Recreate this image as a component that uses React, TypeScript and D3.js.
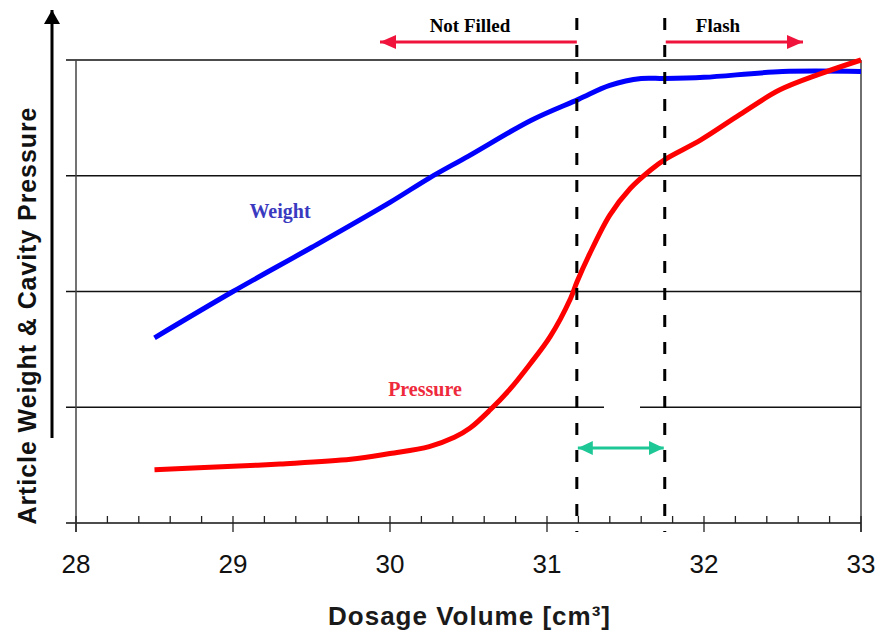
import React, { useEffect, useRef } from 'react';
import * as d3 from 'd3';

// Dosage volume [cm³] and relative curve levels (arbitrary units, 0..4 grid)
const weightX = [28.5, 29.0, 29.5, 30.0, 30.25, 30.5, 30.9, 31.2, 31.4, 31.6, 31.75, 32.0, 32.5, 33.0];
const weightY = [1.6, 2.0, 2.38, 2.77, 2.98, 3.17, 3.48, 3.66, 3.78, 3.84, 3.84, 3.85, 3.9, 3.9];

const pressureX = [28.5, 29.0, 29.3, 29.75, 30.0, 30.25, 30.41, 30.51, 30.64, 30.76, 30.89, 31.02, 31.15, 31.19, 31.27, 31.4, 31.53, 31.66, 31.75, 31.98, 32.23, 32.48, 32.74, 33.0];
const pressureY = [0.46, 0.49, 0.51, 0.55, 0.6, 0.66, 0.74, 0.82, 0.98, 1.15, 1.37, 1.61, 1.94, 2.08, 2.32, 2.66, 2.89, 3.05, 3.14, 3.31, 3.53, 3.74, 3.88, 4.0];

const xTicks = [28, 29, 30, 31, 32, 33];
const gridLevels = [0, 1, 2, 3, 4];
const limits = [31.19, 31.75]; // not filled / flash boundaries

const App = () => {
    const svgRef = useRef(null);

    useEffect(() => {
        document.body.style.margin = '0';
        const svg = d3.select(svgRef.current);
        svg.selectAll('*').remove();

        const x = d3.scaleLinear().domain([28, 33]).range([76, 861]);
        const y = d3.scaleLinear().domain([0, 4]).range([523, 60]);

        const defs = svg.append('defs');
        const mk = (id, color, len, half) => {
            defs.append('marker')
                .attr('id', id)
                .attr('viewBox', `0 ${-half} ${len} ${half * 2}`)
                .attr('refX', len).attr('refY', 0)
                .attr('markerWidth', len).attr('markerHeight', half * 2)
                .attr('markerUnits', 'userSpaceOnUse')
                .attr('orient', 'auto-start-reverse')
                .append('path')
                .attr('d', `M0,${-half}L${len},0L0,${half}Z`)
                .attr('fill', color);
        };
        mk('arr-red', '#f0143c', 16, 7);
        mk('arr-green', '#1ec896', 15, 7);
        mk('arr-black', '#000', 14, 8);

        // --- GRID ---
        gridLevels.forEach(v => {
            svg.append('line')
                .attr('x1', 66).attr('x2', x(33))
                .attr('y1', y(v)).attr('y2', y(v))
                .attr('stroke', '#111').attr('stroke-width', 1.3);
        });
        // frame sides
        svg.append('line').attr('x1', x(28)).attr('x2', x(28)).attr('y1', y(4)).attr('y2', y(0) + 9)
            .attr('stroke', '#444').attr('stroke-width', 1.5);
        svg.append('line').attr('x1', x(33)).attr('x2', x(33)).attr('y1', y(4)).attr('y2', y(0) + 9)
            .attr('stroke', '#222').attr('stroke-width', 1.3);

        // minor / major ticks
        d3.range(28, 33.001, 0.2).forEach(t => {
            const major = Math.abs(t - Math.round(t)) < 1e-6;
            svg.append('line')
                .attr('x1', x(t)).attr('x2', x(t))
                .attr('y1', y(0) - 7).attr('y2', major ? y(0) + 9 : y(0))
                .attr('stroke', '#222').attr('stroke-width', 1.3);
        });

        // blank patch over the grid line
        svg.append('rect').attr('x', 604).attr('y', y(1) - 3).attr('width', 36).attr('height', 6).attr('fill', '#fff');

        // --- CURVES ---
        const line = d3.line().curve(d3.curveCatmullRom.alpha(0.5)).x(d => x(d[0])).y(d => y(d[1]));
        svg.append('path')
            .datum(weightX.map((v, i) => [v, weightY[i]]))
            .attr('d', line).attr('fill', 'none')
            .attr('stroke', '#0000ff').attr('stroke-width', 5);
        svg.append('path')
            .datum(pressureX.map((v, i) => [v, pressureY[i]]))
            .attr('d', line).attr('fill', 'none')
            .attr('stroke', '#ff0000').attr('stroke-width', 5);

        // --- LIMIT LINES ---
        limits.forEach(l => {
            svg.append('line')
                .attr('x1', x(l)).attr('x2', x(l))
                .attr('y1', 18).attr('y2', 532)
                .attr('stroke', '#000').attr('stroke-width', 3)
                .attr('stroke-dasharray', '12,15');
        });

        // region arrows
        svg.append('line').attr('x1', x(limits[0])).attr('x2', 380).attr('y1', 42).attr('y2', 42)
            .attr('stroke', '#f0143c').attr('stroke-width', 3).attr('marker-end', 'url(#arr-red)');
        svg.append('line').attr('x1', x(limits[1]) + 1).attr('x2', 803).attr('y1', 42).attr('y2', 42)
            .attr('stroke', '#f0143c').attr('stroke-width', 3).attr('marker-end', 'url(#arr-red)');
        svg.append('line').attr('x1', x(limits[0]) + 1).attr('x2', x(limits[1]) - 1).attr('y1', 448).attr('y2', 448)
            .attr('stroke', '#1ec896').attr('stroke-width', 3)
            .attr('marker-start', 'url(#arr-green)').attr('marker-end', 'url(#arr-green)');

        const serif = '"Liberation Serif", "Times New Roman", serif';
        svg.append('text').attr('x', 470).attr('y', 32).attr('text-anchor', 'middle')
            .attr('font-family', serif).attr('font-weight', 'bold').attr('font-size', 19).text('Not Filled');
        svg.append('text').attr('x', 718).attr('y', 32).attr('text-anchor', 'middle')
            .attr('font-family', serif).attr('font-weight', 'bold').attr('font-size', 19).text('Flash');
        svg.append('text').attr('x', 280).attr('y', 218).attr('text-anchor', 'middle')
            .attr('font-family', serif).attr('font-weight', 'bold').attr('font-size', 20)
            .attr('fill', '#3a3ac0').text('Weight');
        svg.append('text').attr('x', 425).attr('y', 396).attr('text-anchor', 'middle')
            .attr('font-family', serif).attr('font-weight', 'bold').attr('font-size', 20)
            .attr('fill', '#ee2a3c').text('Pressure');

        // --- AXES TEXT ---
        const sans = '"Liberation Sans", Arial, sans-serif';
        xTicks.forEach(t => {
            svg.append('text').attr('x', x(t)).attr('y', 573).attr('text-anchor', 'middle')
                .attr('font-family', sans).attr('font-size', 26).attr('fill', '#111').text(t);
        });
        svg.append('text').attr('x', 469).attr('y', 625).attr('text-anchor', 'middle')
            .attr('font-family', sans).attr('font-weight', 'bold').attr('font-size', 26)
            .attr('textLength', 282).attr('lengthAdjust', 'spacing')
            .attr('fill', '#1a1a1a').text('Dosage Volume [cm³]');

        svg.append('line').attr('x1', 52).attr('x2', 52).attr('y1', 438).attr('y2', 10)
            .attr('stroke', '#000').attr('stroke-width', 3).attr('marker-end', 'url(#arr-black)');
        svg.append('text').attr('transform', 'translate(36,316) rotate(-90)').attr('text-anchor', 'middle')
            .attr('font-family', sans).attr('font-weight', 'bold').attr('font-size', 25)
            .attr('textLength', 417).attr('lengthAdjust', 'spacing')
            .attr('fill', '#111').text('Article Weight & Cavity Pressure');
    }, []);

    return <svg ref={svgRef} width={884} height={631} style={{ display: 'block' }} />;
};

export default App;
